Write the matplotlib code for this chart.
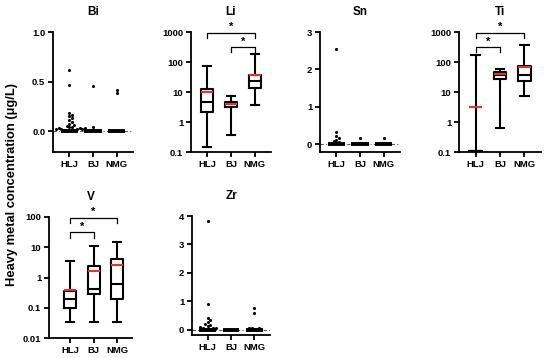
import numpy as np
import matplotlib
matplotlib.use("Agg")
import matplotlib.pyplot as plt
import matplotlib.transforms as mtransforms

plt.rcParams['font.family'] = ['Liberation Sans', 'DejaVu Sans']
plt.rcParams['font.weight'] = 'bold'

groups = ['HLJ', 'BJ', 'NMG']
RED = '#e8312b'

# box panels: whisker low, q1, median, q3, whisker high, mean
li_stats = {'HLJ': (0.15, 2.2, 4.8, 12.3, 72, 10.0),
            'BJ': (0.36, 3.2, 3.9, 4.8, 7.3, 4.1),
            'NMG': (3.6, 14, 23, 36, 190, 37)}
ti_stats = {'HLJ': (0.11, 0.11, 0.11, 0.11, 170, 3.1),
            'BJ': (0.62, 28, 36, 46, 60, 39),
            'NMG': (7.3, 24, 36, 74, 380, 68)}
v_stats = {'HLJ': (0.035, 0.098, 0.19, 0.37, 3.5, 0.39),
           'BJ': (0.035, 0.28, 0.43, 2.35, 11, 1.6),
           'NMG': (0.035, 0.2, 0.6, 4.1, 15, 2.6)}

# dot panels: values visible above the zero band
bi_vals = {'HLJ': [0.62, 0.47, 0.18, 0.16, 0.15, 0.13, 0.11, 0.09, 0.07, 0.06,
                   0.05, 0.04, 0.04, 0.03, 0.03, 0.03, 0.02, 0.02, 0.02, 0.02,
                   0.01, 0.01, 0.01, 0.01, 0.01],
           'BJ': [0.46, 0.04],
           'NMG': [0.42, 0.38]}
sn_vals = {'HLJ': [2.54, 0.33, 0.22, 0.17, 0.12, 0.08, 0.05, 0.03],
           'BJ': [0.17],
           'NMG': [0.17]}
zr_vals = {'HLJ': [3.83, 0.9, 0.4, 0.33, 0.27, 0.22, 0.17, 0.13, 0.1, 0.08,
                   0.06, 0.05, 0.04, 0.03, 0.02],
           'BJ': [],
           'NMG': [0.76, 0.61, 0.08, 0.06, 0.05, 0.04, 0.03]}

# significance brackets: (group a, group b)
li_sig = [('HLJ', 'NMG'), ('BJ', 'NMG')]
ti_sig = [('HLJ', 'NMG'), ('HLJ', 'BJ')]
v_sig = [('HLJ', 'NMG'), ('HLJ', 'BJ')]

W, H = 550, 358
fig = plt.figure(figsize=(5.5, 3.58), dpi=100)

def make_ax(left, top, width, height):
    ax = fig.add_axes([left / W, (H - top - height) / H, width / W, height / H])
    for s in ['top', 'right']:
        ax.spines[s].set_visible(False)
    for s in ['left', 'bottom']:
        ax.spines[s].set_linewidth(1.3)
    ax.tick_params(width=1.3, length=3.5, labelsize=6.8, pad=2)
    ax.set_xticks([1, 2, 3])
    ax.set_xticklabels(groups, fontweight='bold')
    return ax

def box_panel(ax, stats, title, ylim, yticks, sig):
    bxp = []
    for g in groups:
        lo, q1, med, q3, hi, mean = stats[g]
        bxp.append(dict(whislo=lo, q1=q1, med=med, q3=q3, whishi=hi,
                        mean=mean, fliers=[]))
    lp = dict(color='black', linewidth=1.5)
    ax.bxp(bxp, positions=[1, 2, 3], widths=0.52, capwidths=0.34,
           showmeans=True, meanline=True,
           boxprops=lp, whiskerprops=lp, capprops=lp, medianprops=lp,
           meanprops=dict(color=RED, linewidth=1.5, linestyle='-'))
    ax.set_yscale('log')
    ax.set_ylim(*ylim)
    ax.set_yticks(yticks)
    ax.set_yticklabels(['%g' % t for t in yticks], fontweight='bold')
    ax.yaxis.set_minor_locator(matplotlib.ticker.NullLocator())
    ax.set_xlim(0.32, 3.68)
    ax.set_xticks([1, 2, 3])
    ax.set_xticklabels(groups, fontweight='bold')
    ax.set_title(title, fontsize=8.5, fontweight='bold', pad=12)
    trans = mtransforms.blended_transform_factory(ax.transData, ax.transAxes)
    levels = [0.995, 0.875]
    for (a, b), yb in zip(sig, levels):
        xa, xb = groups.index(a) + 1, groups.index(b) + 1
        ax.plot([xa, xa, xb, xb], [yb - 0.045, yb, yb, yb - 0.045], color='black',
                lw=0.9, transform=trans, clip_on=False)
        ax.text((xa + xb) / 2, yb + 0.005, '*', transform=trans, ha='center',
                va='bottom', fontsize=8, fontweight='bold')

def swarm(vals, px_per_y, px_per_x, d=2.6):
    placed = []
    xs = []
    for v in sorted(vals):
        y = v * px_per_y
        off = 0.0
        k = 0
        while True:
            cand = [0.0] if k == 0 else [k * d, -k * d]
            ok = None
            for c in cand:
                if all((c - px) ** 2 + (y - py) ** 2 >= d * d for px, py in placed):
                    ok = c
                    break
            if ok is not None:
                off = ok
                break
            k += 1
        placed.append((off, y))
        xs.append((v, off / px_per_x))
    return xs

def dot_panel(ax, vals, title, ylim, yticks, fmt, wpx, hpx):
    ax.set_xlim(0.32, 3.68)
    ax.set_ylim(*ylim)
    ax.axhline(0, color='0.35', lw=0.8, ls=(0, (3, 2, 1, 2)), zorder=1)
    px_y = hpx / (ylim[1] - ylim[0])
    px_x = wpx / 3.36
    for i, g in enumerate(groups):
        xpos = i + 1
        ax.plot([xpos - 0.36, xpos + 0.36], [0, 0], color='black', lw=2.8,
                solid_capstyle='butt', zorder=3)
        pts = swarm(vals[g], px_y, px_x)
        if pts:
            ys = [p[0] for p in pts]
            xs = [xpos + p[1] for p in pts]
            ax.scatter(xs, ys, s=5, color='black', zorder=4, linewidths=0)
    ax.set_yticks(yticks)
    ax.set_yticklabels([fmt % t for t in yticks], fontweight='bold')
    ax.set_title(title, fontsize=8.5, fontweight='bold', pad=12)

ax = make_ax(53, 32, 80, 120)
dot_panel(ax, bi_vals, 'Bi', (-0.21, 1.0), [0.0, 0.5, 1.0], '%.1f', 80, 120)

ax = make_ax(191, 32, 80, 120)
box_panel(ax, li_stats, 'Li', (0.1, 1000), [0.1, 1, 10, 100, 1000], li_sig)

ax = make_ax(320, 32, 80, 120)
dot_panel(ax, sn_vals, 'Sn', (-0.21, 3.0), [0, 1, 2, 3], '%d', 80, 120)

ax = make_ax(459, 32, 82, 120)
box_panel(ax, ti_stats, 'Ti', (0.1, 1000), [0.1, 1, 10, 100, 1000], ti_sig)

ax = make_ax(49, 217, 83, 121)
box_panel(ax, v_stats, 'V', (0.01, 100), [0.01, 0.1, 1, 10, 100], v_sig)
ax.set_xlim(0.1, 3.63)

ax = make_ax(192, 216, 78, 119)
dot_panel(ax, zr_vals, 'Zr', (-0.18, 4.0), [0, 1, 2, 3, 4], '%d', 78, 119)

fig.text(12 / W, 1 - 184 / H, 'Heavy metal concentration (\u03bcg/L)', rotation=90,
         ha='center', va='center', fontsize=9.3, fontweight='bold')

fig.savefig('out.png', dpi=100)
